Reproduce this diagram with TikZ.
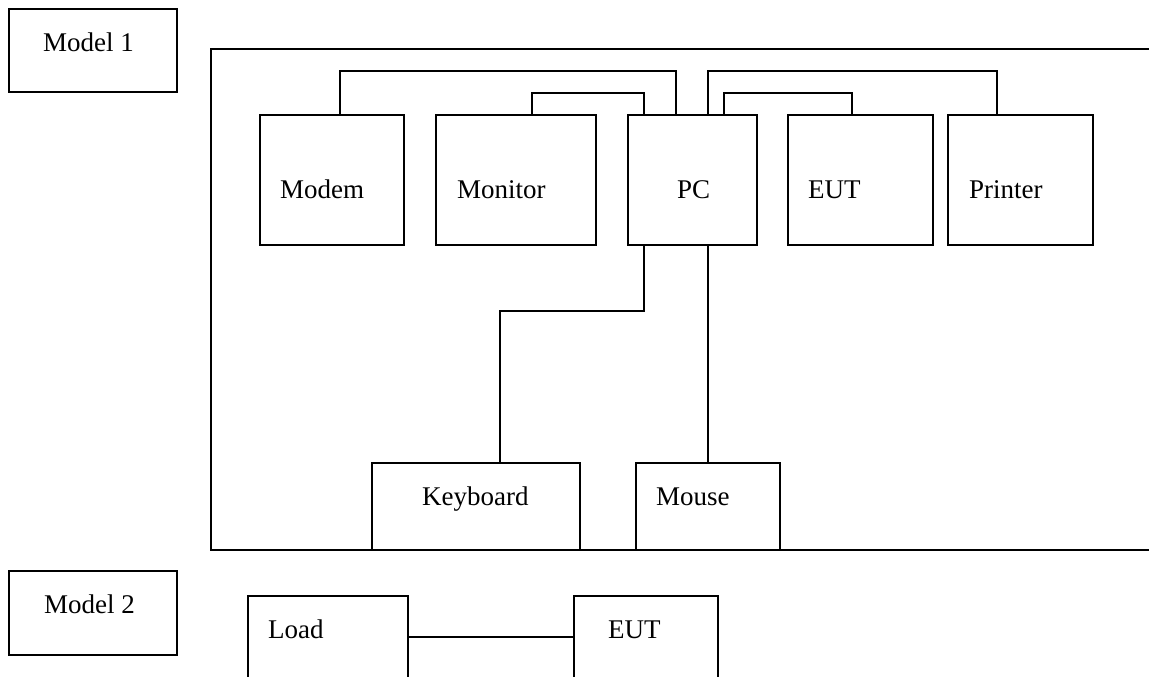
\documentclass[tikz,border=0pt]{standalone}
\usepackage{fontspec}
\setmainfont{Liberation Serif}
\begin{document}
\begin{tikzpicture}[x=1pt,y=-1pt,
  box/.style={draw=black, line width=1.6pt, rectangle, inner sep=0pt, outer sep=0pt, minimum height=130pt},
  lbl/.style={anchor=base west, inner sep=0pt, font=\fontsize{27}{30}\selectfont},
  wire/.style={draw=black, line width=1.4pt},
  frame/.style={draw=black, line width=2.2pt}]
\useasboundingbox (0,0) rectangle (1149,677);
\clip (0,0) rectangle (1149,677);
% model labels
\node[box, minimum width=168pt, minimum height=83pt] (m1) at (93,50.5) {};
\node[lbl] (m1t) at (43,52) {Model 1};
\node[box, minimum width=168pt, minimum height=84pt] (m2) at (93,613) {};
\node[lbl] (m2t) at (44,613) {Model 2};
% frame
\draw[frame] (1170,49) -- (211,49) -- (211,550) -- (1170,550);
% top row
\node[box, minimum width=144pt] (modem) at (332,180) {};
\node[box, minimum width=160pt] (monitor) at (516,180) {};
\node[box, minimum width=129pt] (pc) at (692.5,180) {};
\node[box, minimum width=145pt] (eut) at (860.5,180) {};
\node[box, minimum width=145pt] (printer) at (1020.5,180) {};
\node[lbl] (modemt) at (280,198) {Modem};
\node[lbl] (monitort) at (457,198) {Monitor};
\node[lbl] (pct) at (677,198) {PC};
\node[lbl] (eutt) at (808,198) {EUT};
\node[lbl] (printert) at (969,198) {Printer};
% bottom row
\node[box, minimum width=208pt, minimum height=87pt] (kb) at (476,506.5) {};
\node[box, minimum width=144pt, minimum height=87pt] (mouse) at (708,506.5) {};
\node[lbl] (kbt) at (422,505) {Keyboard};
\node[lbl] (mouset) at (656,505) {Mouse};
% model 2
\node[box, minimum width=160pt, minimum height=124pt] (load) at (328,658) {};
\node[box, minimum width=144pt, minimum height=124pt] (eut2) at (646,658) {};
\node[lbl] (loadt) at (268,638) {Load};
\node[lbl] (eut2t) at (608,638) {EUT};
% connectors
\draw[wire] ([xshift=80pt]modem.north west) -- ++(0,-44) -| ([xshift=48pt]pc.north west);
\draw[wire] ([xshift=96pt]monitor.north west) -- ++(0,-22) -| ([xshift=16pt]pc.north west);
\draw[wire] ([xshift=80pt]pc.north west) -- ++(0,-44) -| ([xshift=49pt]printer.north west);
\draw[wire] ([xshift=96pt]pc.north west) -- ++(0,-22) -| ([xshift=64pt]eut.north west);
\draw[wire] ([xshift=16pt]pc.south west) -- ++(0,66) -| ([xshift=128pt]kb.north west);
\draw[wire] ([xshift=80pt]pc.south west) -- (mouse.north);
\draw[wire] ([yshift=21pt]load.east) -- ([yshift=21pt]eut2.west);
\end{tikzpicture}
\end{document}
